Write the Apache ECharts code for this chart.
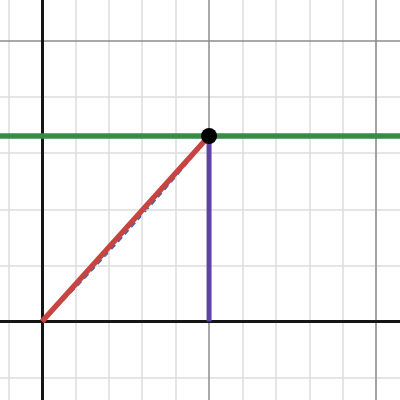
<!DOCTYPE html>
<html>
<head>
<meta charset="utf-8">
<script src="https://cdn.jsdelivr.net/npm/echarts@6/dist/echarts.min.js"></script>
<style>
html,body{margin:0;padding:0;background:#fff;}
#main{width:400px;height:400px;}
</style>
</head>
<body>
<div id="main"></div>
<script>
// view window
var xRange = [-1.257, 10.715];
var yRange = [-1.4, 5.731];

// grid lines
var minorX = [-1, 1, 2, 3, 4, 6, 7, 8, 9, 10];
var majorX = [5, 10];
var minorY = [-1, 1, 2, 3, 4];
var majorY = [5];

// point P and the curves through it
var pointP = [5, 3.307];
var redLine = [[0, 0], [5, 3.307]];
var blueCurve = [[0, 0], [1, 0.61], [2, 1.25], [3, 1.91], [4, 2.59], [5, 3.307]];
var purpleLine = [[5, 0], [5, 3.307]];

function gridLines(vals, dir, color, width, z) {
    return {
        type: 'line',
        data: [],
        z: z,
        silent: true,
        markLine: {
            silent: true,
            symbol: ['none', 'none'],
            label: {show: false},
            animation: false,
            lineStyle: {color: color, width: width, type: 'solid'},
            data: vals.map(function (v) {
                var o = {};
                o[dir] = v;
                return o;
            })
        }
    };
}

var myChart = echarts.init(document.getElementById('main'));
var option = {
    animation: false,
    grid: {left: 0, right: 0, top: 0, bottom: 0},
    xAxis: {
        type: 'value', min: xRange[0], max: xRange[1],
        axisLine: {show: false}, axisTick: {show: false},
        axisLabel: {show: false}, splitLine: {show: false}
    },
    yAxis: {
        type: 'value', min: yRange[0], max: yRange[1],
        axisLine: {show: false}, axisTick: {show: false},
        axisLabel: {show: false}, splitLine: {show: false}
    },
    series: [
        gridLines(minorX, 'xAxis', '#dcdcdc', 1.5, 1),
        gridLines(minorY, 'yAxis', '#dcdcdc', 1.5, 1),
        gridLines(majorX, 'xAxis', '#8c8c8c', 1.5, 2),
        gridLines(majorY, 'yAxis', '#8c8c8c', 1.5, 2),
        gridLines([0], 'xAxis', '#151515', 3, 3),
        gridLines([0], 'yAxis', '#151515', 3, 3),
        {
            type: 'line', data: blueCurve, z: 4, smooth: true,
            symbol: 'none', silent: true,
            lineStyle: {color: '#2d70b3', width: 2.5, type: [6, 4]}
        },
        {
            type: 'line', data: redLine, z: 5,
            symbol: 'none', silent: true,
            lineStyle: {color: '#c74440', width: 5.5}
        },
        {
            type: 'line', data: [], z: 6, silent: true,
            markLine: {
                silent: true, symbol: ['none', 'none'], label: {show: false},
                lineStyle: {color: '#388c46', width: 5.5, type: 'solid'},
                data: [{yAxis: pointP[1]}]
            }
        },
        {
            type: 'line', data: purpleLine, z: 7,
            symbol: 'none', silent: true,
            lineStyle: {color: '#6042a6', width: 5}
        },
        {
            type: 'scatter', data: [pointP], z: 8,
            symbolSize: 16, silent: true,
            itemStyle: {color: '#000', opacity: 1}
        }
    ]
};
myChart.setOption(option);
window.addEventListener("resize", function () {
    myChart.resize();
});
</script>
</body>
</html>
